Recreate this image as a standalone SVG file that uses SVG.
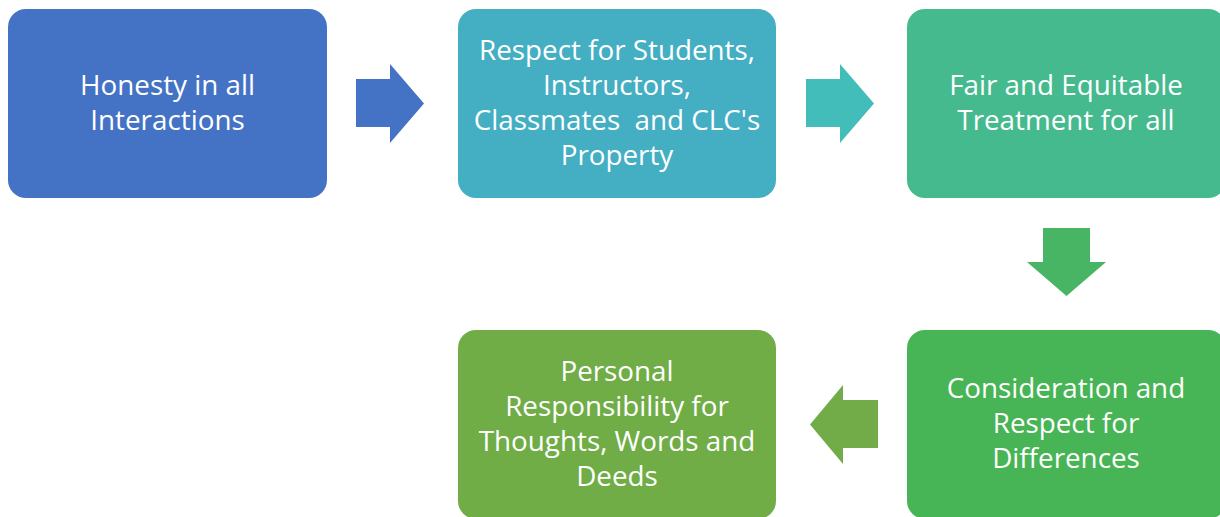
<svg xmlns="http://www.w3.org/2000/svg" width="1220" height="517" viewBox="0 0 1220 517">
<style>
.box{stroke:none}
.lbl{font-family:"Open Sans","Liberation Sans",sans-serif;font-size:27.8px;fill:#ffffff;text-anchor:middle;white-space:pre}
</style>
<rect width="1220" height="517" fill="#ffffff"/>
<g id="connectors">
<polygon id="arrow1" points="356,79 390,79 390,64 424,103.5 390,143 390,127 356,127" fill="#4472C4"/>
<polygon id="arrow2" points="806,79 840,79 840,64 874,103.5 840,143 840,127 806,127" fill="#43BDB9"/>
<polygon id="arrow3" points="1043,228 1090,228 1090,262 1106,262 1066.5,296 1027,262 1043,262" fill="#47B564"/>
<polygon id="arrow4" points="878,400 843,400 843,385 810,424.5 843,464 843,448 878,448" fill="#71AC48"/>
</g>
<g id="node1">
<rect class="box" x="8" y="9" width="319" height="189" rx="18" fill="#4472C4"/>
<text class="lbl" x="167.5" y="95">Honesty in all</text>
<text class="lbl" x="167.5" y="130">Interactions</text>
</g>
<g id="node2">
<rect class="box" x="458" y="9" width="318" height="189" rx="18" fill="#44AEC3"/>
<text class="lbl" x="617" y="60">Respect for Students,</text>
<text class="lbl" x="617" y="95">Instructors,</text>
<text class="lbl" x="617" y="130" xml:space="preserve">Classmates  and CLC's</text>
<text class="lbl" x="617" y="165">Property</text>
</g>
<g id="node3">
<rect class="box" x="907" y="9" width="319" height="189" rx="18" fill="#45BA8E"/>
<text class="lbl" x="1066" y="95">Fair and Equitable</text>
<text class="lbl" x="1066" y="130">Treatment for all</text>
</g>
<g id="node4">
<rect class="box" x="907" y="330" width="319" height="189" rx="18" fill="#47B455"/>
<text class="lbl" x="1066" y="398">Consideration and</text>
<text class="lbl" x="1066" y="433">Respect for</text>
<text class="lbl" x="1066" y="468">Differences</text>
</g>
<g id="node5">
<rect class="box" x="458" y="330" width="318" height="189" rx="18" fill="#70AD47"/>
<text class="lbl" x="617" y="381">Personal</text>
<text class="lbl" x="617" y="416">Responsibility for</text>
<text class="lbl" x="617" y="451">Thoughts, Words and</text>
<text class="lbl" x="617" y="486">Deeds</text>
</g>
</svg>
